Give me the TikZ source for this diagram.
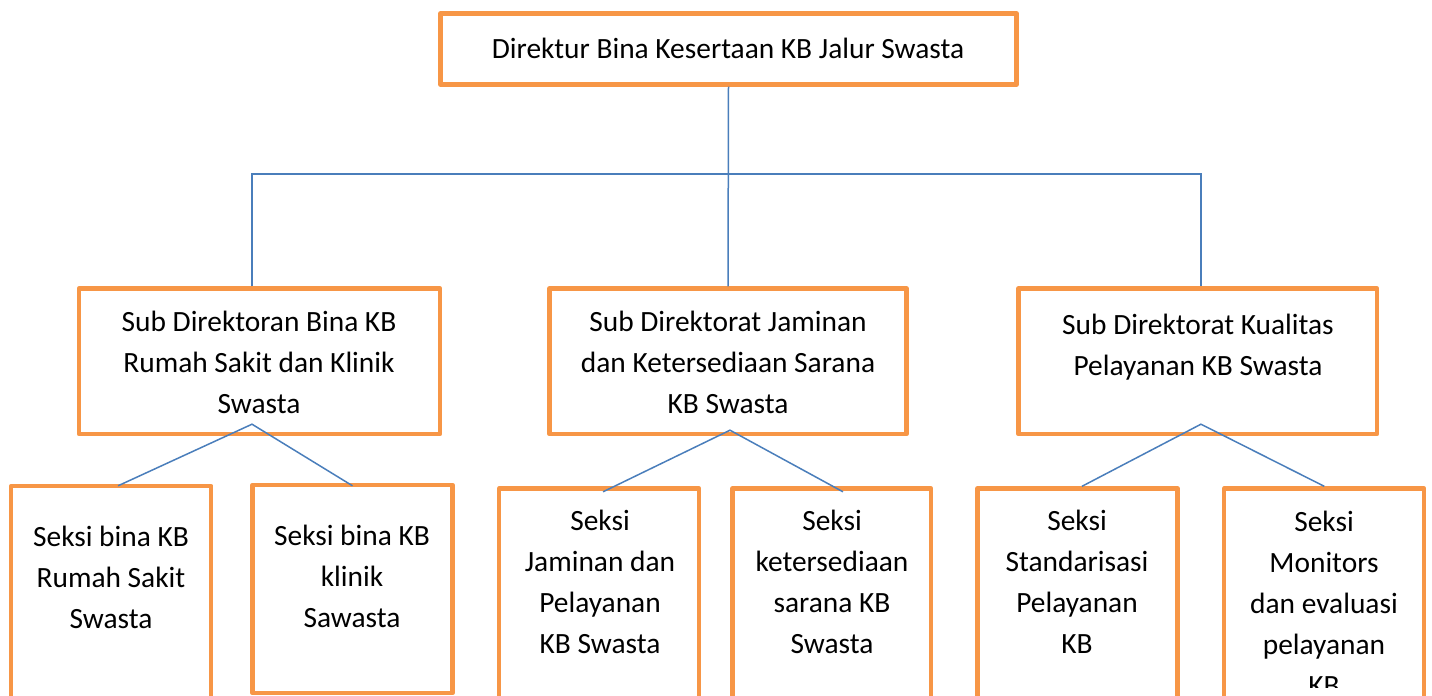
\documentclass[tikz,border=0pt]{standalone}
\usepackage{fontspec}
\setmainfont{Carlito}
\definecolor{boxorange}{HTML}{F79646}
\definecolor{linkblue}{HTML}{4A7EBB}
\begin{document}
\begin{tikzpicture}[x = 0.5pt, y = -0.5pt,
		box/.style = {draw = boxorange, line width = 2.2pt, line join = round, inner sep = 0pt},
		seksi/.style = {box, minimum width = 100pt, minimum height = 125pt},
		txt/.style = {align = center, inner sep = 0pt, font = \fontsize{14.7pt}{20.5pt}\selectfont,
			execute at begin node = \strut, execute at end node = \strut},
		link/.style = {draw = linkblue, line width = 0.75pt}]
		\useasboundingbox (0,0) rectangle (1432,696);
		\clip (0,0) rectangle (1432,696);
		
		\begin{scope}
		\node [box, minimum width = 288pt, minimum height = 35.5pt] (dir) at (728.5, 49) {};
		
		\node [box, minimum width = 180.5pt, minimum height = 72.75pt] (subA) at (259.5, 361.25) {};
		\node [box, minimum width = 178.5pt, minimum height = 72.75pt] (subB) at (728, 361.25) {};
		\node [box, minimum width = 179.25pt, minimum height = 72.75pt] (subC) at (1197.75, 361.25) {};
		
		\node [seksi] (seksiA) at (111.25, 611) {};
		\node [seksi, minimum height = 104pt] (seksiB) at (352.5, 589) {};
		\node [seksi] (seksiC) at (599.25, 613.5) {};
		\node [seksi, minimum width = 99.25pt] (seksiD) at (831.75, 613.5) {};
		\node [seksi] (seksiE) at (1077.5, 613.5) {};
		\node [seksi] (seksiF) at (1324.25, 613.5) {};
		\end{scope}
		
		\coordinate (busA) at (252, 174);
		\coordinate (busC) at (1201, 174);
		\draw [link] (dir.south) -- (subB.north);
		\draw [link] (busA |- subA.north) -- (busA) -- (busC) -- (busC |- subC.north);
		
		\draw [link] ([xshift = 3.4pt, yshift = -1pt]seksiA.north) -- ([xshift = -3.75pt, yshift = 6pt]subA.south) -- ([yshift = -1.5pt]seksiB.north);
		\draw [link] ([xshift = 1.9pt, yshift = -2.75pt]seksiC.north) -- ([xshift = 1pt, yshift = 3pt]subB.south) -- ([xshift = 5.6pt, yshift = -2.75pt]seksiD.north);
		\draw [link] ([xshift = 2.25pt]seksiE.north) -- ([xshift = 1.6pt, yshift = 6pt]subC.south) -- (seksiF.north);
		
		\node [txt] (dirT) at (728, 50) {Direktur Bina Kesertaan KB Jalur Swasta};
		\node [txt] (subAT) at (259, 368) {Sub Direktoran Bina KB\\Rumah Sakit dan Klinik\\Swasta};
		\node [txt] (subBT) at (728, 368) {Sub Direktorat Jaminan\\dan Ketersediaan Sarana\\KB Swasta};
		\node [txt] (subCT) at (1198, 351) {Sub Direktorat Kualitas\\Pelayanan KB Swasta};
		
		\node [txt] (seksiAT) at (111, 583) {Seksi bina KB\\Rumah Sakit\\Swasta};
		\node [txt] (seksiBT) at (352, 582) {Seksi bina KB\\klinik\\Sawasta};
		\node [txt] (seksiCT) at (600, 588) {Seksi\\Jaminan dan\\Pelayanan\\KB Swasta};
		\node [txt] (seksiDT) at (832, 588) {Seksi\\ketersediaan\\sarana KB\\Swasta};
		\node [txt] (seksiET) at (1077, 588) {Seksi\\Standarisasi\\Pelayanan\\KB};
		\begin{scope}
		\clip (1224, 480) rectangle (1424, 687);
		\node [txt] (seksiFT) at (1324, 609) {Seksi\\Monitors\\dan evaluasi\\pelayanan\\KB};
		\end{scope}
		
		\end{tikzpicture}
\end{document}
